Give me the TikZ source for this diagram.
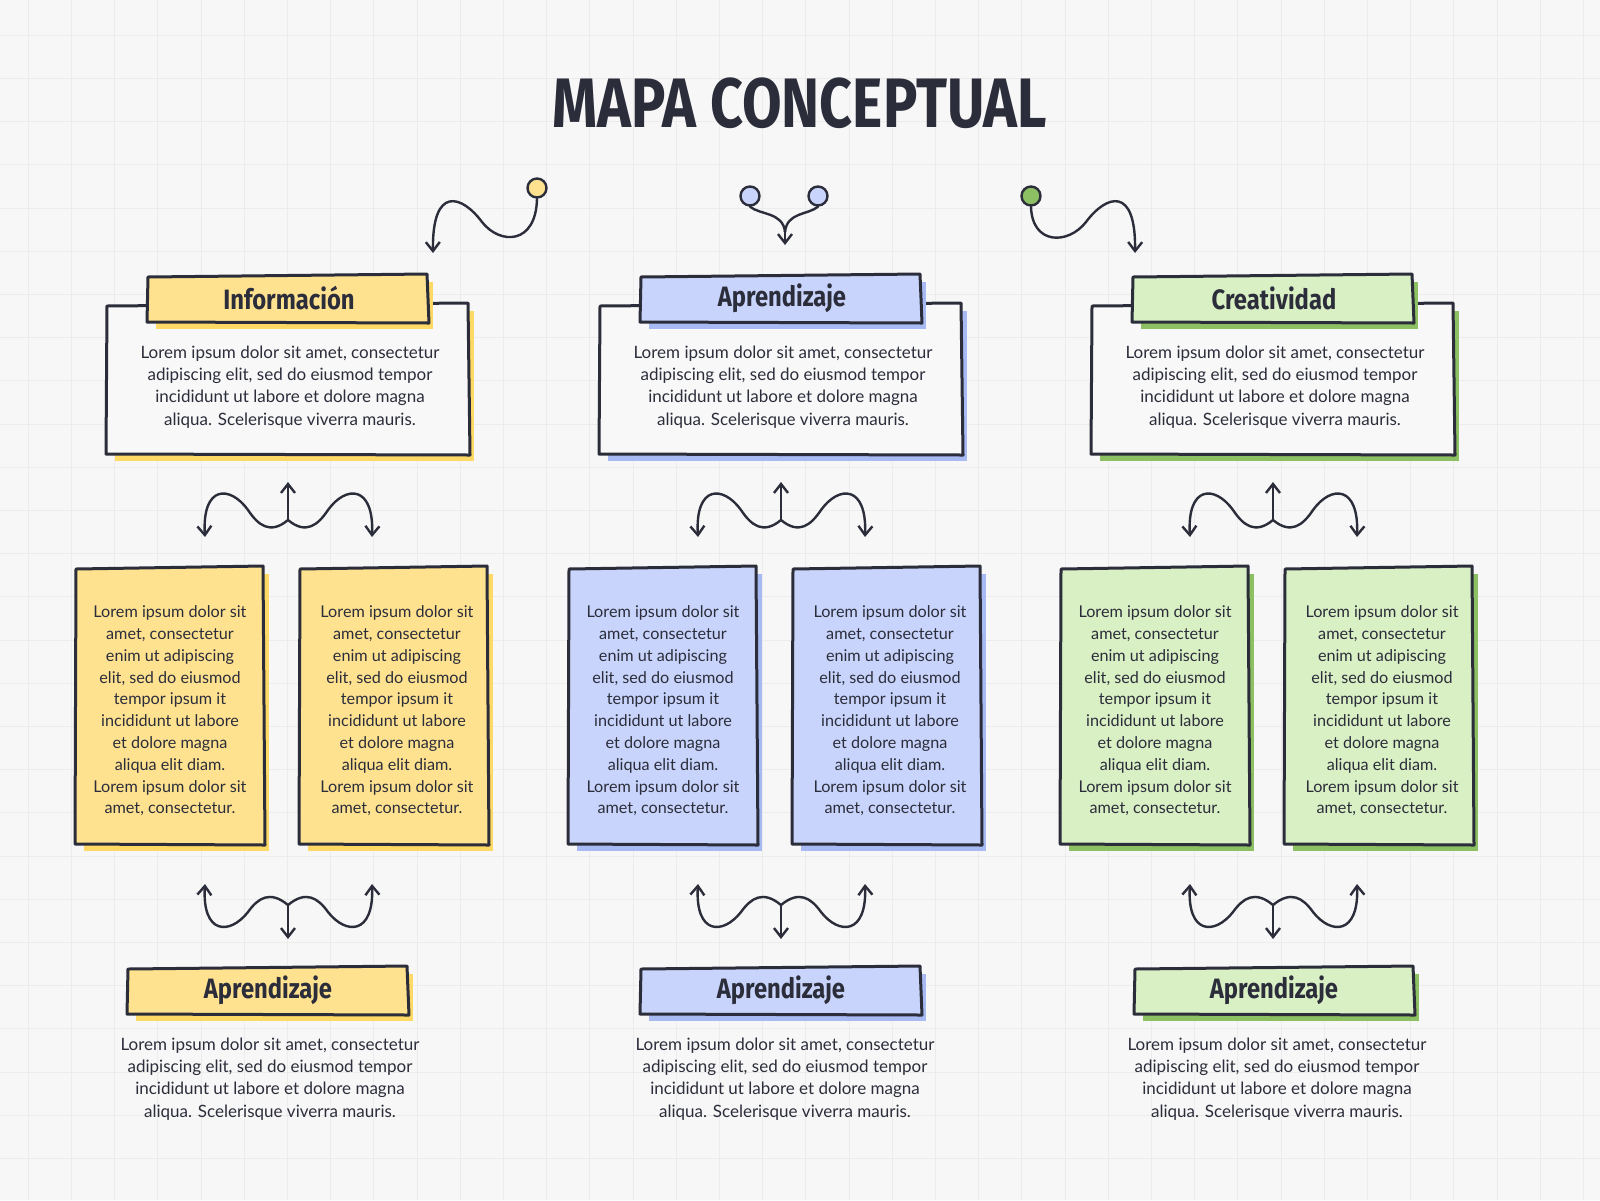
\documentclass[tikz,border=0pt]{standalone}
\usepackage{fontspec}
\setmainfont{Lato}
\newfontfamily\headfont{Fira Sans}
\usetikzlibrary{arrows.meta}
\definecolor{ink}{HTML}{2B2D3A}
\definecolor{bg}{HTML}{F7F7F7}
\definecolor{gridc}{HTML}{ECECEC}
\definecolor{yel}{HTML}{FFE28F}
\definecolor{yelS}{HTML}{FFD966}
\definecolor{blu}{HTML}{C8D4FB}
\definecolor{bluS}{HTML}{A8BAF3}
\definecolor{grn}{HTML}{D9EFC4}
\definecolor{grnS}{HTML}{8DC063}
\definecolor{whi}{HTML}{F8F8F8}
\tikzset{
 outl/.style={draw=ink,line width=3pt,line join=round},
 conn/.style={draw=ink,line width=2.4pt,line cap=round,-{Straight Barb[length=9pt,width=14pt,line width=2.4pt]}},
 plain/.style={draw=ink,line width=2.4pt,line cap=round},
 body/.style={font=\fontsize{17}{22.3}\selectfont,text=ink,align=center},
 narrow/.style={font=\fontsize{16.2}{21.8}\selectfont,text=ink,align=center},
 head/.style={font=\headfont\fontsize{28}{30}\selectfont\bfseries,text=ink,xscale=0.85},
 dot/.style={circle,draw=ink,line width=2.4pt,minimum size=19pt,inner sep=0pt}
}
% box: x1 y1 x2 y2 fill shadow
\newcommand{\skbox}[6]{%
 \fill[#6] (#1+8,#2+6) rectangle (#3+6,#4+6);
 \filldraw[outl,fill=#5] (#1,#2+1) -- (#3,#2-2) -- (#3+2,#4) -- (#1-1,#4-1) -- cycle;}
\newcommand{\colset}[4]{% offset, fill, shadow, name
\begin{scope}[xshift=#1]
 \skbox{107}{305}{468}{455}{whi}{#3}
 \skbox{148}{276}{427}{323}{#2}{#3}
 \node[head] (h#4) at (289,298) {\ifx#4a Información\else\ifx#4b Aprendizaje\else Creatividad\fi\fi};
 \node[body] (t#4) at (290,387) {Lorem ipsum dolor sit amet, consectetur\\adipiscing elit, sed do eiusmod tempor\\incididunt ut labore et dolore magna\\aliqua. Scelerisque viverra mauris.};
 \skbox{76}{568}{263}{845}{#2}{#3}
 \skbox{300}{568}{487}{845}{#2}{#3}
 \node[narrow] (l#4) at (170,711) {Lorem ipsum dolor sit\\amet, consectetur\\enim ut adipiscing\\elit, sed do eiusmod\\tempor ipsum it\\incididunt ut labore\\et dolore magna\\aliqua elit diam.\\Lorem ipsum dolor sit\\amet, consectetur.};
 \node[narrow] (r#4) at (397,711) {Lorem ipsum dolor sit\\amet, consectetur\\enim ut adipiscing\\elit, sed do eiusmod\\tempor ipsum it\\incididunt ut labore\\et dolore magna\\aliqua elit diam.\\Lorem ipsum dolor sit\\amet, consectetur.};
 % middle connectors
 \coordinate (ma#4) at (205,537); \coordinate (mb#4) at (372,537); \coordinate (mc#4) at (288,482);
 \draw[conn] (288,520) .. controls (270,535) and (258,525) .. (248,510) .. controls (230,485) and (202,485) .. (ma#4);
 \draw[conn] (288,520) .. controls (306,535) and (318,525) .. (328,510) .. controls (346,485) and (374,485) .. (mb#4);
 \draw[conn] (288,520) -- (mc#4);
 % bottom connectors
 \coordinate (ba#4) at (205,884); \coordinate (bb#4) at (372,884); \coordinate (bc#4) at (288,939);
 \draw[conn] (288,905) .. controls (270,890) and (258,898) .. (248,912) .. controls (230,935) and (202,935) .. (ba#4);
 \draw[conn] (288,905) .. controls (306,890) and (318,898) .. (328,912) .. controls (346,935) and (374,935) .. (bb#4);
 \draw[conn] (288,905) -- (bc#4);
\end{scope}}
\begin{document}
\begin{tikzpicture}[x=1pt,y=-1pt]
\fill[bg] (0,0) rectangle (1600,1200);
\useasboundingbox (0,0) rectangle (1600,1200);
\foreach \i in {0,...,38} {\draw[gridc,line width=1pt] (\i*43.2-15,0) -- (\i*43.2-15,1200);}
\foreach \i in {0,...,28} {\draw[gridc,line width=1pt] (0,\i*43.2-8) -- (1600,\i*43.2-8);}
\node[font=\headfont\fontsize{70}{72}\selectfont\bfseries,text=ink,xscale=0.82] (title) at (800,103) {MAPA CONCEPTUAL};
\colset{0}{yel}{yelS}{a}
\colset{493}{blu}{bluS}{b}
\colset{985}{grn}{grnS}{c}
% bottom headers and text
\skbox{128}{968}{407}{1015}{yel}{yelS}
\node[head] (ba) at (268,990) {Aprendizaje};
\node[body] (bta) at (270,1079) {Lorem ipsum dolor sit amet, consectetur\\adipiscing elit, sed do eiusmod tempor\\incididunt ut labore et dolore magna\\aliqua. Scelerisque viverra mauris.};
\skbox{641}{968}{920}{1015}{blu}{bluS}
\node[head] (bb) at (781,990) {Aprendizaje};
\node[body] (btb) at (785,1079) {Lorem ipsum dolor sit amet, consectetur\\adipiscing elit, sed do eiusmod tempor\\incididunt ut labore et dolore magna\\aliqua. Scelerisque viverra mauris.};
\skbox{1135}{968}{1413}{1015}{grn}{grnS}
\node[head] (bc) at (1274,990) {Aprendizaje};
\node[body] (btc) at (1277,1079) {Lorem ipsum dolor sit amet, consectetur\\adipiscing elit, sed do eiusmod tempor\\incididunt ut labore et dolore magna\\aliqua. Scelerisque viverra mauris.};
% top connectors
\node[dot,fill=yel] (d1) at (537,188) {};
\coordinate (e1) at (433,253);
\draw[conn] (d1.south) .. controls (536,245) and (500,245) .. (482,222) .. controls (462,195) and (432,185) .. (e1);
\node[dot,fill=blu] (d2) at (750,196) {};
\node[dot,fill=blu] (d3) at (818,196) {};
\coordinate (e2) at (785,245);
\draw[plain] (d2.south) .. controls (760,215) and (783,212) .. (785,232);
\draw[plain] (d3.south) .. controls (808,215) and (787,212) .. (785,232);
\draw[conn] (785,228) -- (e2);
\node[dot,fill=grnS] (d4) at (1031,196) {};
\coordinate (e3) at (1135,253);
\draw[conn] (d4.south) .. controls (1032,245) and (1068,245) .. (1086,222) .. controls (1106,195) and (1136,185) .. (e3);
\end{tikzpicture}
\end{document}
